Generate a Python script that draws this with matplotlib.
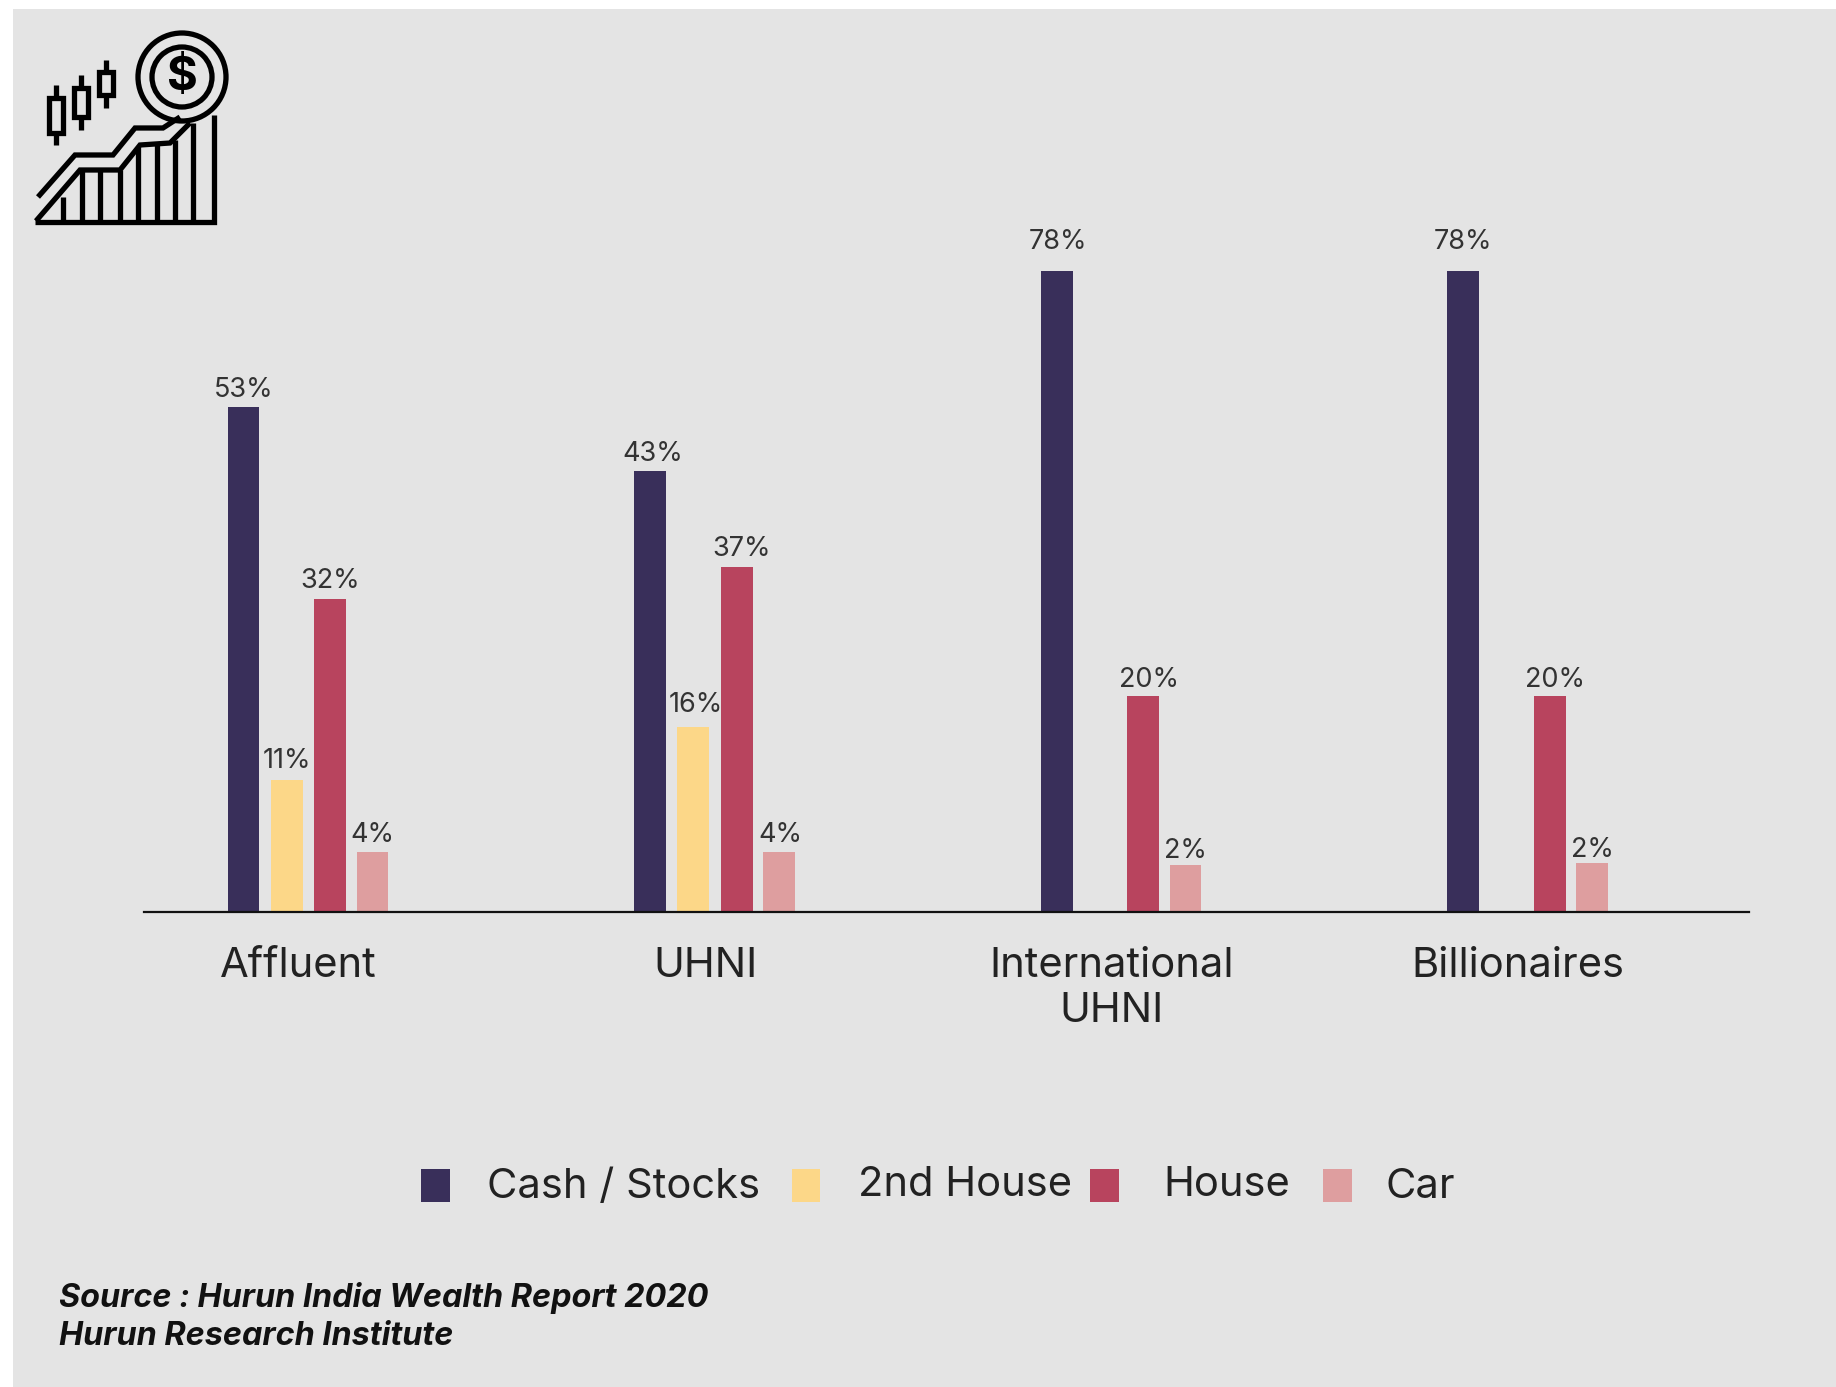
import numpy as np
import matplotlib
matplotlib.use('Agg')
import matplotlib.pyplot as plt
from matplotlib.patches import Rectangle, Circle

plt.rcParams['font.family'] = ['Inter', 'DejaVu Sans']

groups = ['Affluent', 'UHNI', 'International\nUHNI', 'Billionaires']
series = ['Cash / Stocks', '2nd House', 'House', 'Car']
colors = ['#392F5A', '#FCD788', '#B8445E', '#DE9E9F']

# bar heights as drawn (the source chart is not to scale with its own labels)
cash_h = [61.5, 53.7, 78.0, 78.0]
second_h = [16.1, 22.5, None, None]
house_h = [38.1, 42.0, 26.3, 26.3]
car_h = [7.3, 7.3, 5.7, 6.0]

cash_lab = ['53%', '43%', '78%', '78%']
second_lab = ['11%', '16%', None, None]
house_lab = ['32%', '37%', '20%', '20%']
car_lab = ['4%', '4%', '2%', '2%']

heights = [cash_h, second_h, house_h, car_h]
labels = [cash_lab, second_lab, house_lab, car_lab]
offsets = [-0.135, -0.029, 0.078, 0.182]

# label nudges, in points, the labels sit a bit unevenly in the original
lab_dx = [[0, 1.7, 1.3, 0], [0.4, 1.7, 0, 0], [0, 3.8, 3.8, 3.8], [0, 0.8, 0, 0]]
lab_dy = [[2.5, 2.5, 11.5, 11.5], [4, 6.5, 0, 0], [3.2, 3.2, 2.2, 2.2], [3.2, 3.2, 0.8, 0]]

W, H = 1836, 1387
fig = plt.figure(figsize=(W / 100, H / 100), dpi=100, facecolor='white')

# overlay in pixel coordinates for the panel, icon, legend and source
bg = fig.add_axes([0, 0, 1, 1])
bg.set_xlim(0, W)
bg.set_ylim(H, 0)
bg.axis('off')
bg.add_patch(Rectangle((13, 9), W - 13, H - 9, color='#E4E4E4', lw=0))

# main chart
x0, x1, base, top = 144, 1749, 912, 271
ax = fig.add_axes([x0 / W, 1 - base / H, (x1 - x0) / W, (base - top) / H])
ax.patch.set_alpha(0)
ax.set_ylim(0, 78)
ax.set_xlim(-0.380, 3.568)
x = np.arange(len(groups))
for k in range(4):
    for i in x:
        if heights[k][i] is None:
            continue
        ax.bar(i + offsets[k], heights[k][i], width=0.078, color=colors[k], lw=0)
        ax.annotate(labels[k][i], (i + offsets[k], heights[k][i]),
                    xytext=(lab_dx[k][i], lab_dy[k][i]),
                    textcoords='offset points', ha='center', va='bottom',
                    fontsize=19.5, color='#333333', clip_on=False)
for s in ['top', 'right', 'left']:
    ax.spines[s].set_visible(False)
ax.spines['bottom'].set_linewidth(1.6)
ax.spines['bottom'].set_color('#111111')
ax.set_yticks([])
ax.set_xticks(x, groups, fontsize=30, color='#222222', linespacing=1.25)
ax.tick_params(axis='x', length=0, pad=25)

# legend, spaced unevenly like the original
leg_x = [421, 792, 1090, 1323]
leg_w = [29, 28, 29, 29]
txt_x = [487, 858, 1163, 1385]
txt_y = [1198, 1196, 1196, 1198]
for k in range(4):
    bg.add_patch(Rectangle((leg_x[k], 1169), leg_w[k], 33, color=colors[k], lw=0))
    bg.text(txt_x[k], txt_y[k], series[k], fontsize=30, color='#222222', va='baseline')

bg.text(59, 1307, 'Source : Hurun India Wealth Report 2020', fontsize=23.3, fontweight='bold',
        fontstyle='italic', color='#111111', va='baseline')
bg.text(59, 1345, 'Hurun Research Institute', fontsize=23.3, fontweight='bold',
        fontstyle='italic', color='#111111', va='baseline')

# icon
lw = 3.8
ik = dict(color='black', lw=lw, solid_capstyle='butt', solid_joinstyle='miter')
bg.add_patch(Circle((182, 77), 44, fill=False, ec='black', lw=lw))
bg.add_patch(Circle((182, 77), 30, fill=False, ec='black', lw=lw))
bg.text(182, 78, '$', fontsize=34, fontweight='bold', ha='center', va='center', color='black')
bg.plot([35, 213.5, 213.5], [222, 222, 115], **ik)
bg.plot([36, 80, 120, 140, 170, 190], [221, 170, 170, 145, 143, 123], **ik)
bg.plot([38, 75, 113, 135, 163, 180], [197, 155, 155, 128, 128, 117], **ik)
for vx, vt in zip([63, 82, 100, 120, 138, 157, 175, 193], [197, 170, 170, 170, 147, 145, 140, 123]):
    bg.plot([vx, vx], [222, vt], **ik)
for cx, y0, y1, b0, b1 in [(56, 85, 145, 98, 133), (81, 75, 130, 88, 117), (106, 60, 108, 72, 95)]:
    bg.plot([cx, cx], [y0, b0], **ik)
    bg.plot([cx, cx], [b1, y1], **ik)
    bg.add_patch(Rectangle((cx - 7, b0), 14, b1 - b0, fill=False, ec='black', lw=lw))

fig.savefig('out.png', dpi=100)
